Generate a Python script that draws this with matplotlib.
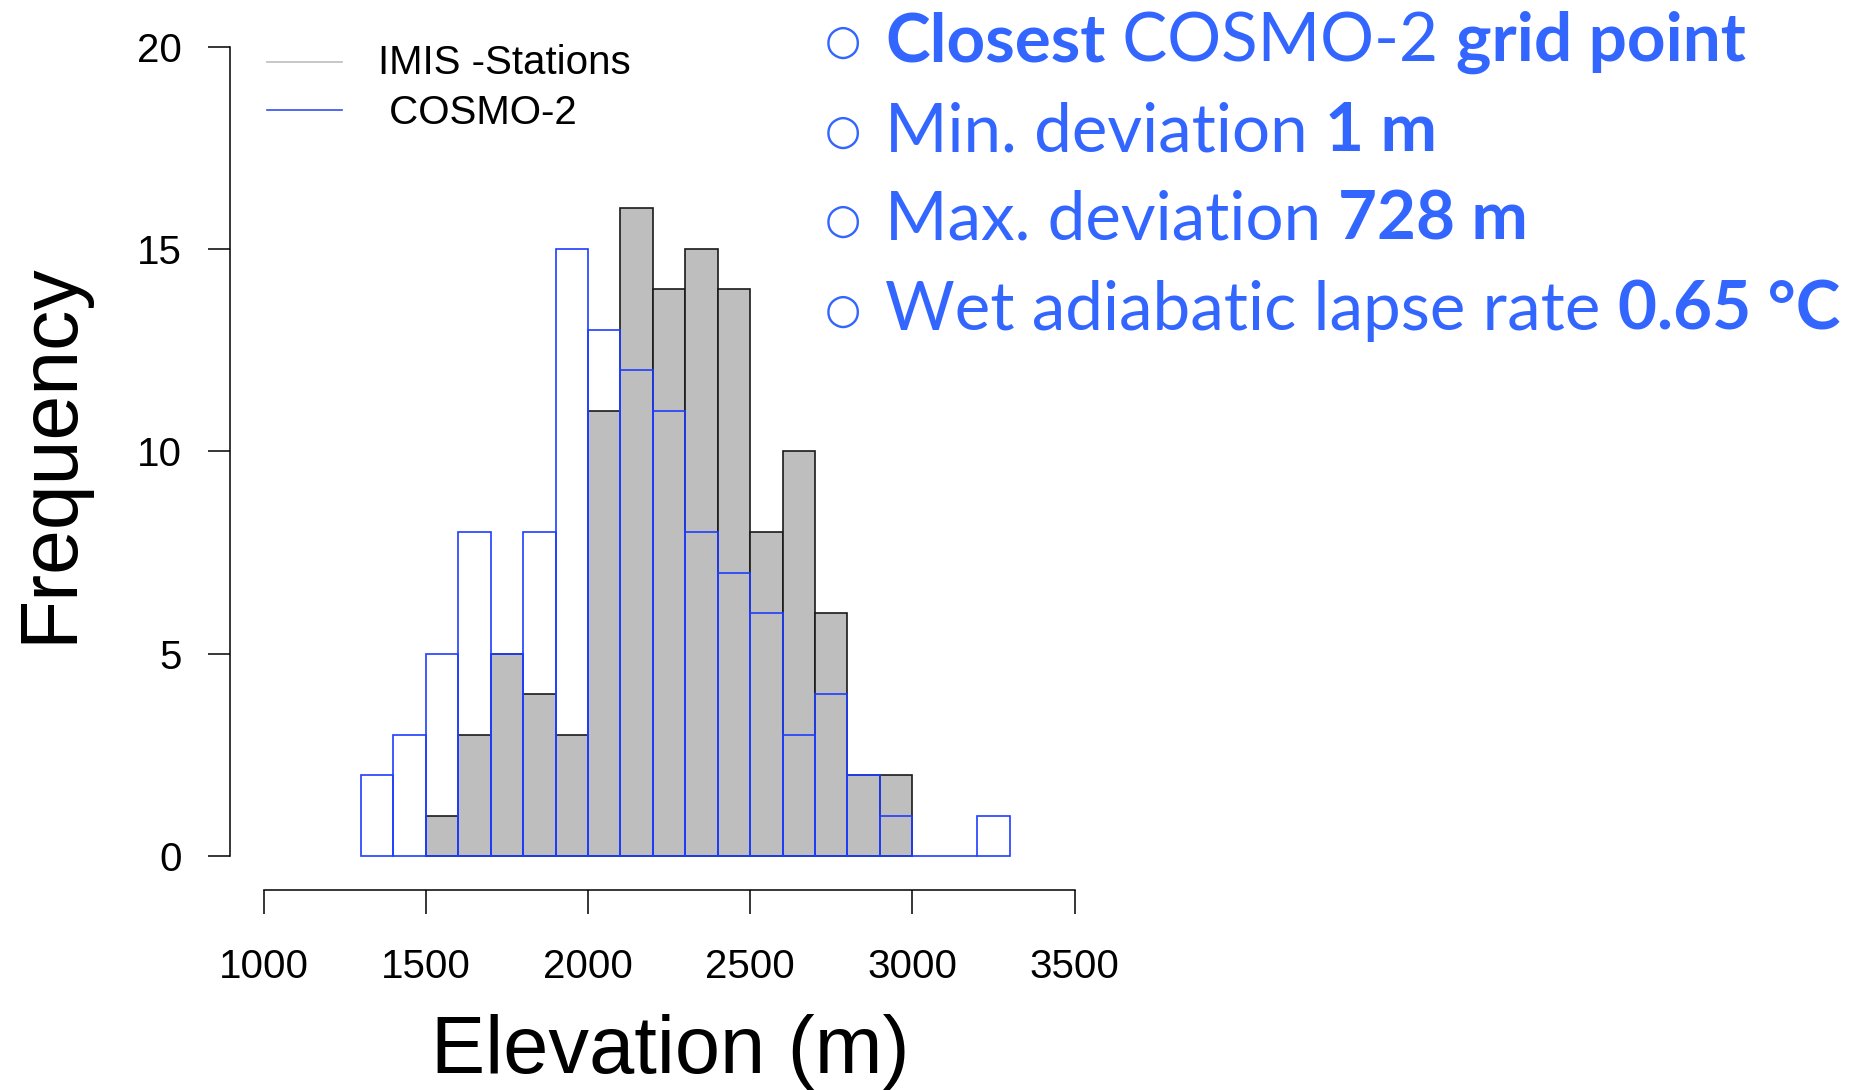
import numpy as np
import matplotlib.pyplot as plt

# histogram counts, 100 m bins
imis_edges = [1500, 1600, 1700, 1800, 1900, 2000, 2100, 2200, 2300, 2400,
              2500, 2600, 2700, 2800, 2900]
imis_counts = [1, 3, 5, 4, 3, 11, 16, 14, 15, 14, 8, 10, 6, 2, 2]

cosmo_edges = [1300, 1400, 1500, 1600, 1700, 1800, 1900, 2000, 2100, 2200,
               2300, 2400, 2500, 2600, 2700, 2800, 2900, 3000, 3100, 3200]
cosmo_counts = [2, 3, 5, 8, 5, 8, 15, 13, 12, 11, 8, 7, 6, 3, 4, 2, 1, 0, 0, 1]

bin_width = 100
x_ticks = [1000, 1500, 2000, 2500, 3000, 3500]
y_ticks = [0, 5, 10, 15, 20]

# (text, bold) pieces for the note block on the right
notes = [
    [("Closest", True), (" COSMO-2 ", False), ("grid point", True)],
    [("Min. deviation ", False), ("1 m", True)],
    [("Max. deviation ", False), ("728 m", True)],
    [("Wet adiabatic lapse rate ", False), ("0.65 °C", True)],
]

W, H = 1870, 1090
fig = plt.figure(figsize=(W / 100, H / 100), dpi=100)
plt.rcParams['font.family'] = ['Liberation Sans', 'DejaVu Sans']

ax = fig.add_axes([263.6 / W, 1 - 856 / H, (1074.5 - 263.6) / W, (856 - 46.5) / H])
ax.bar(imis_edges, imis_counts, width=bin_width, align='edge',
       color='#bebebe', edgecolor='#1a1a1a', linewidth=1.2, clip_on=False)
ax.bar(cosmo_edges, cosmo_counts, width=bin_width, align='edge',
       facecolor='none', edgecolor='#1f3dff', linewidth=1.2, clip_on=False)

ax.set_xlim(1000, 3500)
ax.set_ylim(0, 20)
for s in ['top', 'right']:
    ax.spines[s].set_visible(False)
ax.spines['left'].set_position(('outward', 24.2))
ax.spines['bottom'].set_position(('outward', 24.5))
ax.spines['left'].set_bounds(0, 20)
ax.spines['bottom'].set_bounds(1000, 3500)
for s in ['left', 'bottom']:
    ax.spines[s].set_linewidth(1.1)
ax.set_xticks(x_ticks)
ax.set_yticks(y_ticks)
ax.tick_params(axis='y', length=16, width=1.1, pad=19, labelsize=29)
ax.tick_params(axis='x', length=17, width=1.1, pad=25, labelsize=29)

# legend drawn by hand, R style
lx0, lx1 = 267 / W, 342 / W
fig.add_artist(plt.Line2D([lx0, lx1], [1 - 62 / H] * 2, color='#bebebe', lw=1.2))
fig.add_artist(plt.Line2D([lx0, lx1], [1 - 110 / H] * 2, color='#3050f0', lw=1.2))
fig.text(378 / W, 1 - 63 / H, "IMIS -Stations", fontsize=29, va='center')
fig.text(378 / W, 1 - 113 / H, " COSMO-2", fontsize=29, va='center')

fig.text(50 / W, 1 - 453 / H, "Frequency", fontsize=58, rotation=90,
         ha='center', va='center')
fig.text(670 / W, 17 / H, "Elevation (m)", fontsize=58.5, ha='center', va='baseline')

# note block
blue = '#3366ff'
fig.canvas.draw()
renderer = fig.canvas.get_renderer()
row_y = [42, 132, 221, 311]
for pieces, yc in zip(notes, row_y):
    y = 1 - yc / H
    fig.text(843 / W, y, "\u25cb", fontsize=30, color=blue, ha='center',
             va='center', family=['DejaVu Sans'])
    x = 885
    for txt, bold in pieces:
        t = fig.text(x / W, y, txt, fontsize=48.5, color=blue, va='center',
                     fontweight='bold' if bold else 'normal', family=['Lato', 'DejaVu Sans'])
        bb = t.get_window_extent(renderer)
        x += bb.width

fig.savefig('out.png', dpi=100)
